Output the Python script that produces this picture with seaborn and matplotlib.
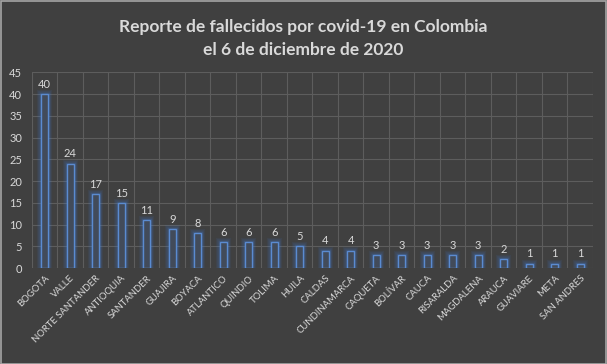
import numpy as np
import pandas as pd
import seaborn as sns
import matplotlib.pyplot as plt
from matplotlib.patches import Rectangle
from matplotlib.ticker import FixedLocator

# data
departamentos = ['BOGOTA', 'VALLE', 'NORTE SANTANDER', 'ANTIOQUIA', 'SANTANDER', 'GUAJIRA',
                 'BOYACA', 'ATLANTICO', 'QUINDIO', 'TOLIMA', 'HUILA', 'CALDAS', 'CUNDINAMARCA',
                 'CAQUETA', 'BOLÍVAR', 'CAUCA', 'RISARALDA', 'MAGDALENA', 'ARAUCA', 'GUAVIARE',
                 'META', 'SAN ANDRES']
fallecidos = [40, 24, 17, 15, 11, 9, 8, 6, 6, 6, 5, 4, 4, 3, 3, 3, 3, 3, 2, 1, 1, 1]
y_ticks = list(range(0, 50, 5))

df = pd.DataFrame({'dep': departamentos, 'n': fallecidos})

bg = '#404040'
txt = '#d9d9d9'
grid = '#5d5d5d'
blue = '#5b8bd0'

sns.set_style('dark')
plt.rcParams['font.family'] = ['Lato', 'DejaVu Sans']

fig = plt.figure(figsize=(6.07, 3.64), dpi=100, facecolor=bg)
ax = fig.add_axes([0.0527, 0.2637, 0.924, 0.5377])
ax.set_facecolor(bg)

# glow under the bars
for lw, a in [(6, 0.08), (4, 0.12), (2.5, 0.2)]:
    sns.barplot(data=df, x='dep', y='n', ax=ax, width=0.27, color='none',
                edgecolor='#3f7fe0', linewidth=lw, alpha=a, zorder=2)
sns.barplot(data=df, x='dep', y='n', ax=ax, width=0.27, color='#3e4a5e',
            edgecolor=blue, linewidth=1.0, zorder=3)
# glow layers keep only their edges
for i, p in enumerate(ax.patches):
    if i < 3 * len(fallecidos):
        p.set_facecolor('none')

ax.bar_label(ax.containers[-1], labels=[str(v) for v in fallecidos],
             padding=3, color=txt, fontsize=8)

ax.set_ylim(0, 45)
ax.set_xlim(-0.5, len(departamentos) - 0.5)
ax.set_yticks(y_ticks)
ax.xaxis.set_minor_locator(FixedLocator(np.arange(-0.5, len(departamentos), 1)))
ax.grid(True, axis='y', which='major', color=grid, linewidth=0.8, zorder=0)
ax.grid(True, axis='x', which='minor', color=grid, linewidth=0.8, zorder=0)
ax.grid(False, axis='x', which='major')
ax.set_axisbelow(True)
for s in ax.spines.values():
    s.set_visible(False)

ax.tick_params(axis='both', which='both', length=0, colors=txt)
ax.tick_params(axis='y', pad=7, labelsize=8)
ax.set_xticks(range(len(departamentos)))
ax.set_xticklabels(departamentos, rotation=45, ha='right', rotation_mode='anchor')
ax.tick_params(axis='x', pad=4, labelsize=6.8)
ax.set_xlabel('')
ax.set_ylabel('')

fig.text(0.5, 0.895, 'Reporte de fallecidos por covid-19 en Colombia\nel 6 de diciembre de 2020',
         ha='center', va='center', color=txt, fontsize=12.5, fontweight='bold', linespacing=1.55)

fig.patches.append(Rectangle((0.001, 0.001), 0.998, 0.996, transform=fig.transFigure,
                             fill=False, edgecolor='#a6a6a6', linewidth=1.2))

fig.savefig('out.png', dpi=100, facecolor=bg)
